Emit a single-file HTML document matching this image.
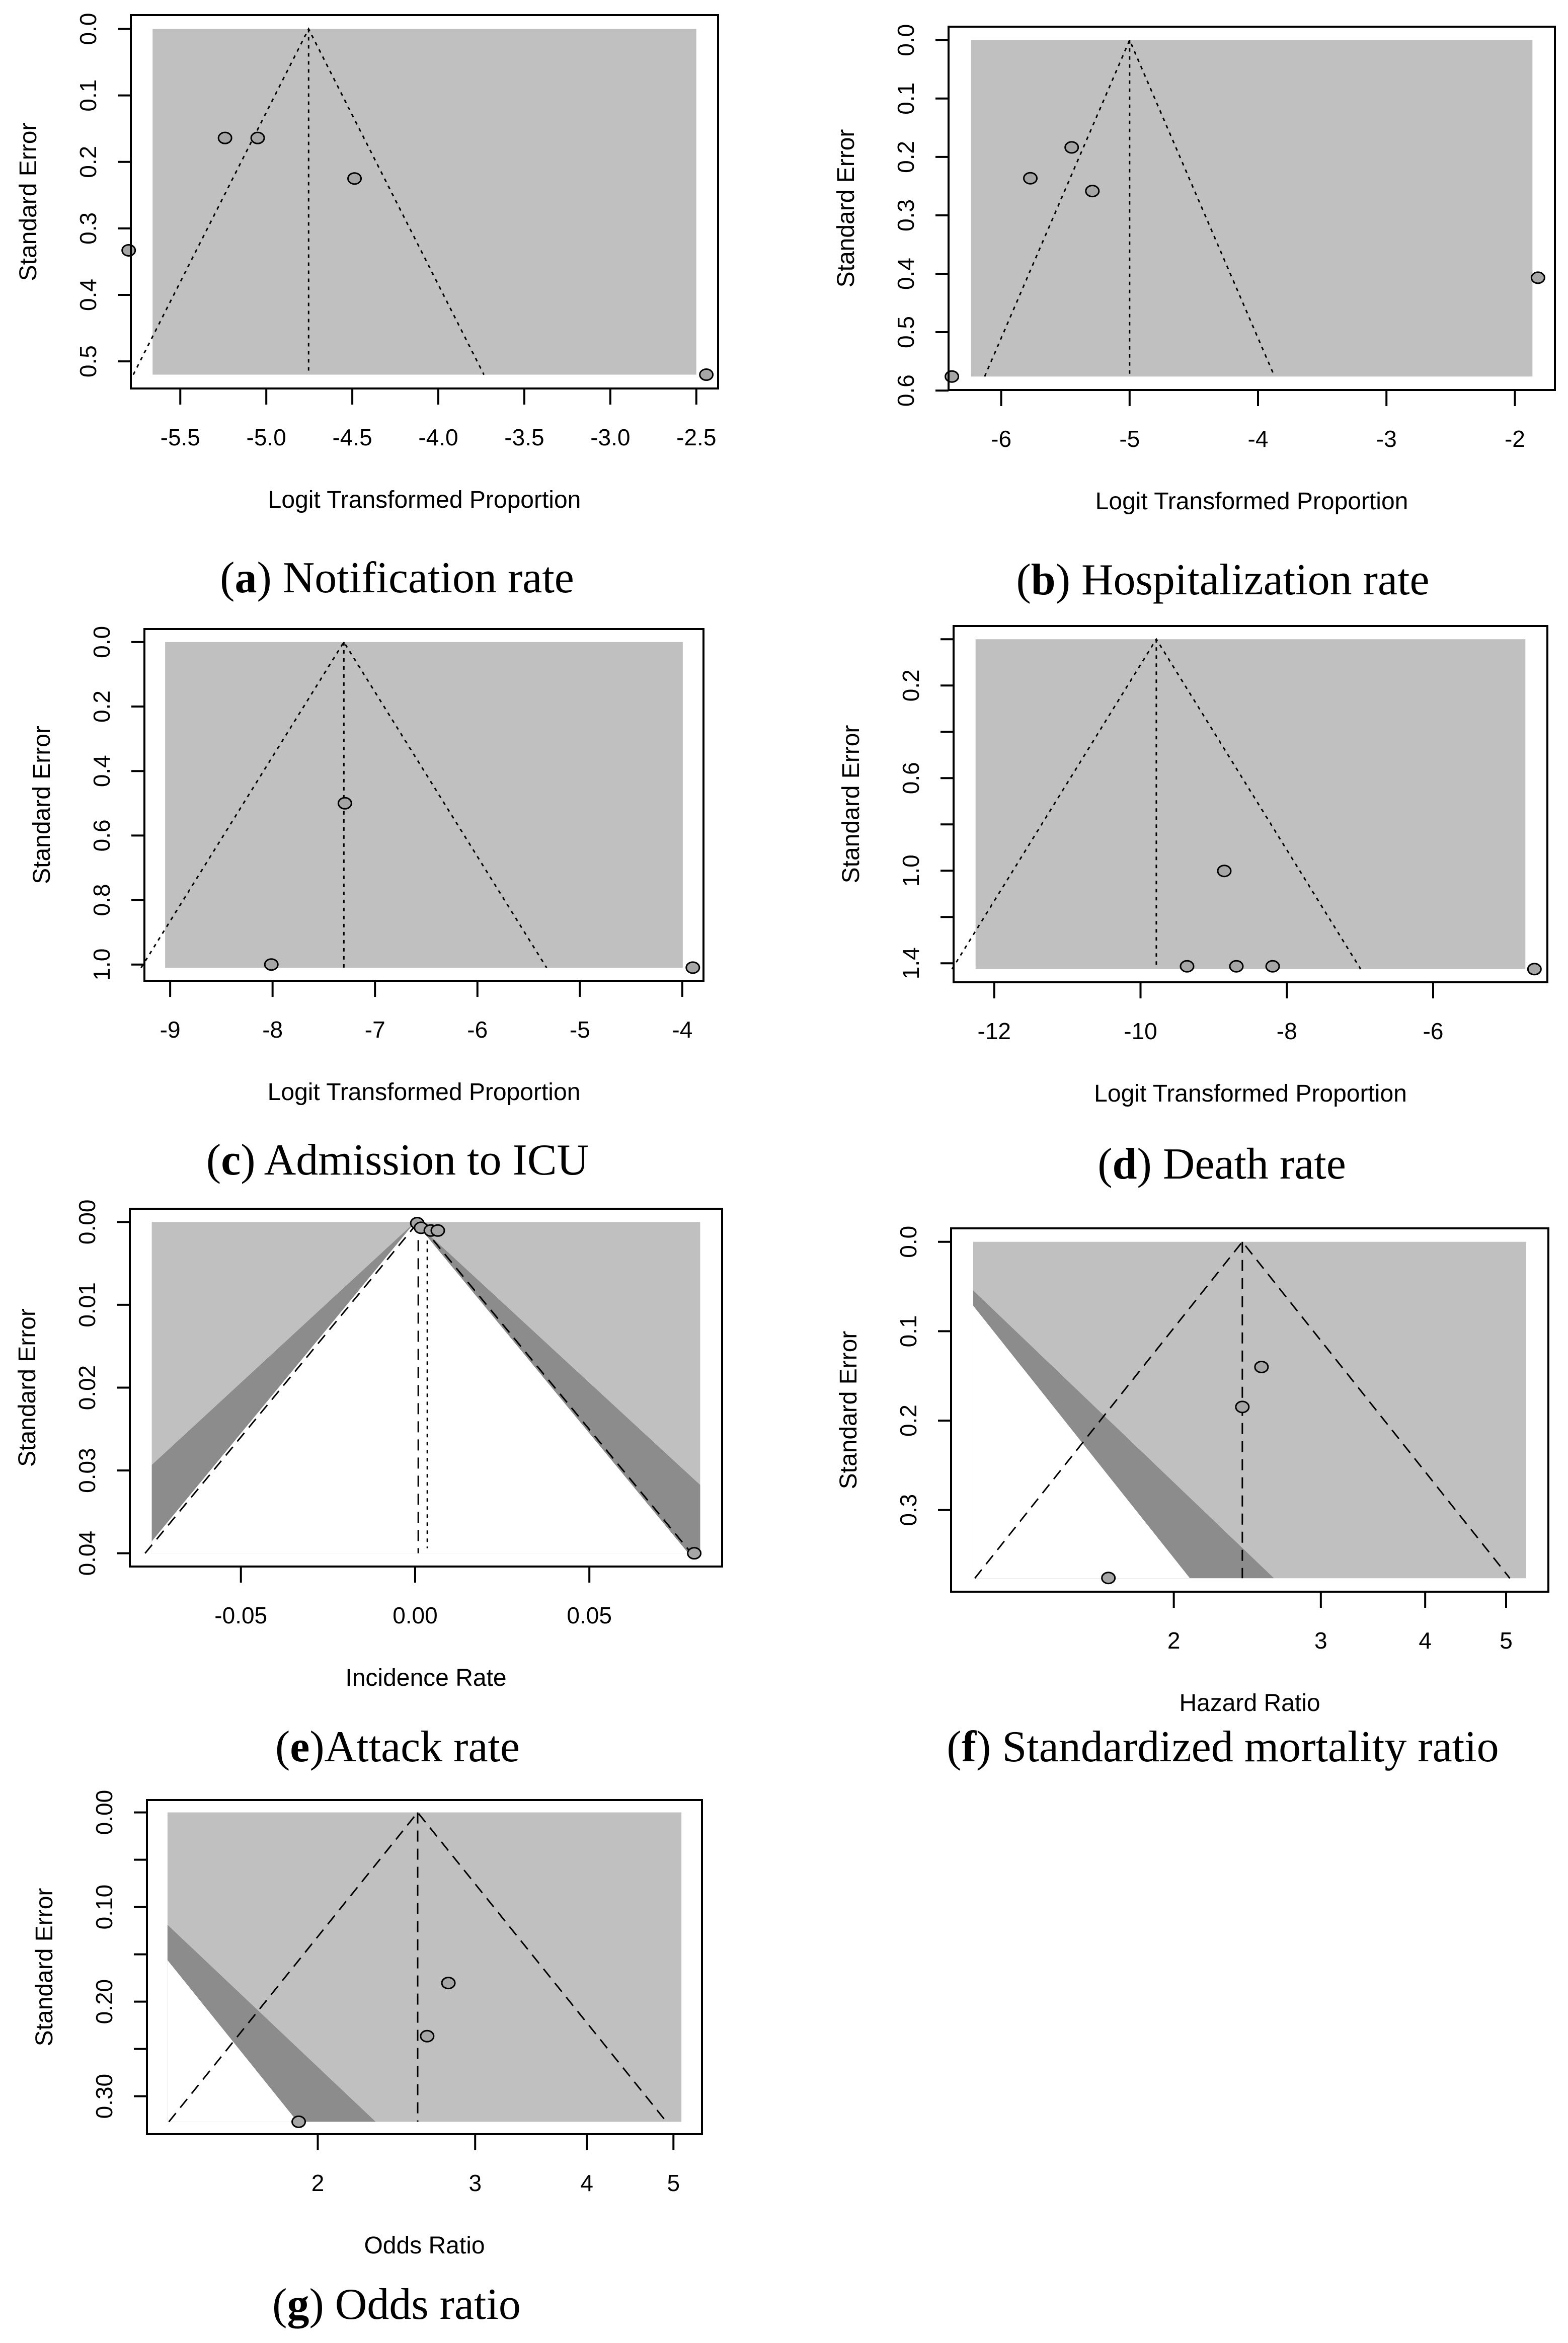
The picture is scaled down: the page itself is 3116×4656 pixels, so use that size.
<!DOCTYPE html>
<html><head><meta charset="utf-8"><style>
html,body{margin:0;padding:0;background:#fff;}
svg{display:block;}
</style></head><body>
<svg id="fig" xmlns="http://www.w3.org/2000/svg" width="3116" height="4656" viewBox="0 0 3116 4656">
<rect x="0" y="0" width="3116" height="4656" fill="#fff"/>
</svg>
<script>
// ---- data ----
const aX=[-5.24,-5.05,-4.487,-5.80,-2.442], aSE=[0.164,0.164,0.225,0.333,0.520];
const aCenter=-4.754, aXTicks=[-5.5,-5.0,-4.5,-4.0,-3.5,-3.0,-2.5], aXLabels=["-5.5","-5.0","-4.5","-4.0","-3.5","-3.0","-2.5"];
const aYTicks=[0,0.1,0.2,0.3,0.4,0.5], aYLabels=["0.0","0.1","0.2","0.3","0.4","0.5"];

const bX=[-5.451,-5.773,-5.290,-1.820,-6.384], bSE=[0.1836,0.2365,0.2584,0.4068,0.576];
const bCenter=-5.0, bXTicks=[-6,-5,-4,-3,-2], bXLabels=["-6","-5","-4","-3","-2"];
const bYTicks=[0,0.1,0.2,0.3,0.4,0.5,0.6], bYLabels=["0.0","0.1","0.2","0.3","0.4","0.5","0.6"];

const cX=[-8.012,-7.294,-3.897], cSE=[1.0,0.5,1.0096];
const cCenter=-7.304, cXTicks=[-9,-8,-7,-6,-5,-4], cXLabels=["-9","-8","-7","-6","-5","-4"];
const cYTicks=[0,0.2,0.4,0.6,0.8,1.0], cYLabels=["0.0","0.2","0.4","0.6","0.8","1.0"];

const dX=[-9.364,-8.69,-8.194,-8.855,-4.615], dSE=[1.413,1.413,1.413,1.001,1.425];
const dCenter=-9.784, dXTicks=[-12,-10,-8,-6], dXLabels=["-12","-10","-8","-6"];
const dYTicks=[0,0.2,0.4,0.6,0.8,1.0,1.2,1.4], dYLabels=["","0.2","","0.6","","1.0","","1.4"];

const eX=[0.0006,0.0017,0.0045,0.0065,0.0801], eSE=[0.00014,0.0007,0.00103,0.00103,0.04];
const eCenter=0.0009, eAdj=0.0035, eXTicks=[-0.05,0,0.05], eXLabels=["-0.05","0.00","0.05"];
const eYTicks=[0,0.01,0.02,0.03,0.04], eYLabels=["0.00","0.01","0.02","0.03","0.04"];

const fX=[2.547,2.416,1.67], fSE=[0.140,0.1847,0.376];
const fCenter=2.416, fXTicks=[2,3,4,5], fXLabels=["2","3","4","5"];
const fYTicks=[0,0.1,0.2,0.3], fYLabels=["0.0","0.1","0.2","0.3"];

const gX=[2.80,2.651,1.904], gSE=[0.1803,0.2365,0.327];
const gCenter=2.587, gXTicks=[2,3,4,5], gXLabels=["2","3","4","5"];
const gYTicks=[0,0.05,0.10,0.15,0.20,0.25,0.30], gYLabels=["0.00","","0.10","","0.20","","0.30"];

const NS="http://www.w3.org/2000/svg";
const svg=document.getElementById('fig');
function mk(tag,attrs,parent){const e=document.createElementNS(NS,tag);for(const k in attrs)e.setAttribute(k,attrs[k]);(parent||svg).appendChild(e);return e;}

function panel(id,p){
  const g=mk('g',{});
  
  
  const [bx0,bx1,by0,by1]=p.box;
  const tx=v=>p.log?Math.log(v):v;
  const xa=p.xlim[0], xb=p.xlim[1], xr=xb-xa;
  const ya=p.ylim[0], yb=p.ylim[1], yr=yb-ya;
  const X=v=>bx0+(tx(v)-(xa-0.04*xr))/(1.08*xr)*(bx1-bx0);
  const XT=t=>bx0+(t-(xa-0.04*xr))/(1.08*xr)*(bx1-bx0);
  const Y=v=>by0+(v-(ya-0.04*yr))/(1.08*yr)*(by1-by0);
  const rx0=XT(xa), rx1=XT(xb), ry0=Y(ya), ry1=Y(yb);
  const r=mk('rect',{x:rx0,y:ry0,width:rx1-rx0,height:ry1-ry0,fill:'#c0c0c0'},g);
  
  
  if(p.contour){
    const cp=mk('clipPath',{id:id+'clip'},g);
    mk('rect',{x:rx0,y:ry0,width:rx1-rx0,height:ry1-ry0},cp);
    const ym=yb;
    const dk=mk('polygon',{points:`${XT(0)},${Y(0)} ${XT(-2.576*ym)},${Y(ym)} ${XT(2.576*ym)},${Y(ym)}`,fill:'#8c8c8c','clip-path':`url(#${id}clip)`},g);
    
    
    const wh=mk('polygon',{points:`${XT(0)},${Y(0)} ${XT(-1.96*ym)},${Y(ym)} ${XT(1.96*ym)},${Y(ym)}`,fill:'#ffffff','clip-path':`url(#${id}clip)`},g);
    
    
  }
  const dash=p.dashed?'22 14':'7 9';
  const c=tx(p.center), ym=yb;
  const fl=mk('polyline',{points:`${XT(c-1.96*ym)},${Y(ym)} ${XT(c)},${Y(0)} ${XT(c+1.96*ym)},${Y(ym)}`,fill:'none',stroke:'#000','stroke-width':3,'stroke-dasharray':dash},g);
  
  
  const cl=mk('line',{x1:XT(c),y1:Y(0),x2:XT(c),y2:Y(ym),stroke:'#000','stroke-width':3,'stroke-dasharray':dash},g);
  
  
  if(p.adj!==undefined){
    const al=mk('line',{x1:X(p.adj),y1:Y(0.0003),x2:X(p.adj),y2:Y(ym*0.985),stroke:'#000','stroke-width':3,'stroke-dasharray':'7 9'},g);
    
    
  }
  p.xs.forEach((v,i)=>{
    const pt=mk('ellipse',{cx:X(v),cy:Y(p.se[i]),rx:13,ry:11,fill:'#a6a6a6',stroke:'#000','stroke-width':3},g);
    
    
  });
  const bx=mk('rect',{x:bx0,y:by0,width:bx1-bx0,height:by1-by0,fill:'none',stroke:'#000','stroke-width':4},g);
  
  
  // x axis
  const xt=p.xticks;
  const xal=mk('line',{x1:X(xt[0]),y1:by1,x2:X(xt[xt.length-1]),y2:by1,stroke:'#000','stroke-width':4},g);
  
  
  xt.forEach((v,i)=>{
    mk('line',{x1:X(v),y1:by1,x2:X(v),y2:by1+32,stroke:'#000','stroke-width':4},g);
    const t=mk('text',{x:X(v),y:by1+113,'text-anchor':'middle','font-family':'"Liberation Sans", Arial, sans-serif','font-size':46},g);
    t.textContent=p.xlabels[i];
    
    
  });
  const yt=p.yticks;
  const yal=mk('line',{x1:bx0,y1:Y(yt[0]),x2:bx0,y2:Y(yt[yt.length-1]),stroke:'#000','stroke-width':4},g);
  
  
  yt.forEach((v,i)=>{
    mk('line',{x1:bx0-26,y1:Y(v),x2:bx0,y2:Y(v),stroke:'#000','stroke-width':4},g);
    if(p.ylabels[i]){
      const t=mk('text',{x:0,y:0,transform:`translate(${bx0-69},${Y(v)}) rotate(-90)`,'text-anchor':'middle','font-family':'"Liberation Sans", Arial, sans-serif','font-size':46},g);
      t.textContent=p.ylabels[i];
      
      
    }
  });
  const xtl=mk('text',{x:(bx0+bx1)/2,y:by1+237,'text-anchor':'middle','font-family':'"Liberation Sans", Arial, sans-serif','font-size':48},g);
  xtl.textContent=p.xtitle;
  
  
  const ytl=mk('text',{x:0,y:0,transform:`translate(${bx0-188},${(by0+by1)/2}) rotate(-90)`,'text-anchor':'middle','font-family':'"Liberation Sans", Arial, sans-serif','font-size':48},g);
  ytl.textContent='Standard Error';
  
  
  const cap=mk('text',{x:p.cap[0],y:p.cap[1],'text-anchor':'middle','font-family':'"Liberation Serif", "Times New Roman", serif','font-size':88},g);
  
  
  const s1=mk('tspan',{},cap); s1.textContent='(';
  const s2=mk('tspan',{'font-weight':'bold'},cap); s2.textContent=p.letter;
  const s3=mk('tspan',{},cap); s3.textContent=p.captext;
}

const LT='Logit Transformed Proportion';
panel('panel-a',{box:[260,1427,30,772],xlim:[-5.661,-2.5],ylim:[0,0.52],xs:aX,se:aSE,center:aCenter,xticks:aXTicks,xlabels:aXLabels,yticks:aYTicks,ylabels:aYLabels,xtitle:LT,cap:[789,1177],letter:'a',captext:') Notification rate'});
panel('panel-b',{box:[1885,3090,53,775],xlim:[-6.235,-1.863],ylim:[0,0.576],xs:bX,se:bSE,center:bCenter,xticks:bXTicks,xlabels:bXLabels,yticks:bYTicks,ylabels:bYLabels,xtitle:LT,cap:[2430,1181],letter:'b',captext:') Hospitalization rate'});
panel('panel-c',{box:[287,1398,1250,1949],xlim:[-9.049,-3.995],ylim:[0,1.01],xs:cX,se:cSE,center:cCenter,xticks:cXTicks,xlabels:cXLabels,yticks:cYTicks,ylabels:cYLabels,xtitle:LT,cap:[790,2334],letter:'c',captext:') Admission to ICU'});
panel('panel-d',{box:[1895,3075,1244,1952],xlim:[-12.255,-4.739],ylim:[0,1.425],xs:dX,se:dSE,center:dCenter,xticks:dXTicks,xlabels:dXLabels,yticks:dYTicks,ylabels:dYLabels,xtitle:LT,cap:[2428,2342],letter:'d',captext:') Death rate'});
panel('panel-e',{box:[258,1435,2402,3113],xlim:[-0.07558,0.0818],ylim:[0,0.04],xs:eX,se:eSE,center:eCenter,adj:eAdj,contour:true,dashed:true,xticks:eXTicks,xlabels:eXLabels,yticks:eYTicks,ylabels:eYLabels,xtitle:'Incidence Rate',cap:[790,3500],letter:'e',captext:')Attack rate'});
panel('panel-f',{box:[1890,3077,2441,3163],log:true,xlim:[0.140,1.665],ylim:[0,0.3763],xs:fX,se:fSE,center:fCenter,contour:true,dashed:true,xticks:fXTicks,xlabels:fXLabels,yticks:fYTicks,ylabels:fYLabels,xtitle:'Hazard Ratio',cap:[2430,3500],letter:'f',captext:') Standardized mortality ratio'});
panel('panel-g',{box:[292,1395,3577,4241],log:true,xlim:[0.306,1.630],ylim:[0,0.327],xs:gX,se:gSE,center:gCenter,contour:true,dashed:true,xticks:gXTicks,xlabels:gXLabels,yticks:gYTicks,ylabels:gYLabels,xtitle:'Odds Ratio',cap:[788,4608],letter:'g',captext:') Odds ratio'});
</script>
</body></html>
